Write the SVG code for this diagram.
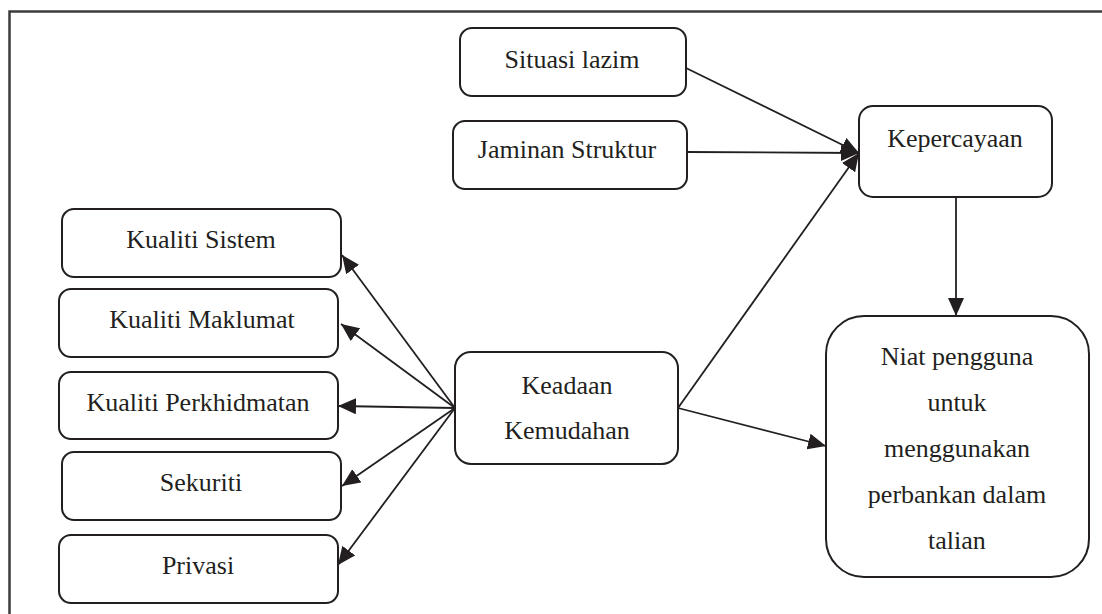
<svg xmlns="http://www.w3.org/2000/svg" width="1102" height="614" viewBox="0 0 1102 614">
  <style>
    .box { fill: #ffffff; stroke: #231f20; stroke-width: 2; }
    .lbl { font-family: "Liberation Serif", serif; font-size: 26px; fill: #231f20; text-anchor: middle; }
    .edge { stroke: #231f20; stroke-width: 1.8; fill: none; marker-end: url(#arrow); }
    .frame { stroke: #3c3c3c; stroke-width: 2.5; fill: none; }
  </style>
  <defs>
    <marker id="arrow" markerUnits="userSpaceOnUse" markerWidth="19" markerHeight="16" refX="18" refY="8" orient="auto">
      <path d="M0,0 L18,8 L0,16 z" fill="#231f20"/>
    </marker>
  </defs>

  <rect width="1102" height="614" fill="#ffffff"/>
  <!-- page frame, open to the right and bottom -->
  <path class="frame" d="M9.5,614 V11.5 H1102"/>

  <g id="connectors">
    <line class="edge" x1="686" y1="68" x2="859" y2="153"/>
    <line class="edge" x1="687" y1="152" x2="859" y2="153"/>
    <line class="edge" x1="678" y1="408" x2="859" y2="153"/>
    <line class="edge" x1="956" y1="197" x2="956" y2="316"/>
    <line class="edge" x1="678" y1="408" x2="826" y2="446"/>
    <line class="edge" x1="455" y1="408" x2="342" y2="255"/>
    <line class="edge" x1="455" y1="408" x2="341" y2="324"/>
    <line class="edge" x1="455" y1="408" x2="338" y2="406"/>
    <line class="edge" x1="455" y1="408" x2="342" y2="486"/>
    <line class="edge" x1="455" y1="408" x2="338" y2="565"/>
  </g>

  <g id="situasi-lazim">
    <rect class="box" x="460" y="28" width="226" height="68" rx="12"/>
    <text class="lbl" x="572" y="68">Situasi lazim</text>
  </g>
  <g id="jaminan-struktur">
    <rect class="box" x="453" y="121" width="234" height="68" rx="12"/>
    <text class="lbl" x="567" y="158">Jaminan Struktur</text>
  </g>
  <g id="kepercayaan">
    <rect class="box" x="859" y="106" width="193" height="91" rx="14"/>
    <text class="lbl" x="955" y="147">Kepercayaan</text>
  </g>
  <g id="niat-pengguna">
    <rect class="box" x="826" y="316" width="263" height="261" rx="38"/>
    <text class="lbl" x="957" y="365">Niat pengguna</text>
    <text class="lbl" x="957" y="411">untuk</text>
    <text class="lbl" x="957" y="457">menggunakan</text>
    <text class="lbl" x="957" y="503">perbankan dalam</text>
    <text class="lbl" x="957" y="549">talian</text>
  </g>
  <g id="keadaan-kemudahan">
    <rect class="box" x="455" y="352" width="223" height="112" rx="16"/>
    <text class="lbl" x="567" y="394">Keadaan</text>
    <text class="lbl" x="567" y="439">Kemudahan</text>
  </g>
  <g id="kualiti-sistem">
    <rect class="box" x="62" y="209" width="279" height="68" rx="12"/>
    <text class="lbl" x="201" y="248">Kualiti Sistem</text>
  </g>
  <g id="kualiti-maklumat">
    <rect class="box" x="59" y="289" width="279" height="68" rx="12"/>
    <text class="lbl" x="202" y="328">Kualiti Maklumat</text>
  </g>
  <g id="kualiti-perkhidmatan">
    <rect class="box" x="59" y="372" width="279" height="67" rx="12"/>
    <text class="lbl" x="198" y="411">Kualiti Perkhidmatan</text>
  </g>
  <g id="sekuriti">
    <rect class="box" x="62" y="452" width="279" height="68" rx="12"/>
    <text class="lbl" x="201" y="491">Sekuriti</text>
  </g>
  <g id="privasi">
    <rect class="box" x="59" y="535" width="279" height="68" rx="12"/>
    <text class="lbl" x="198" y="574">Privasi</text>
  </g>
</svg>
